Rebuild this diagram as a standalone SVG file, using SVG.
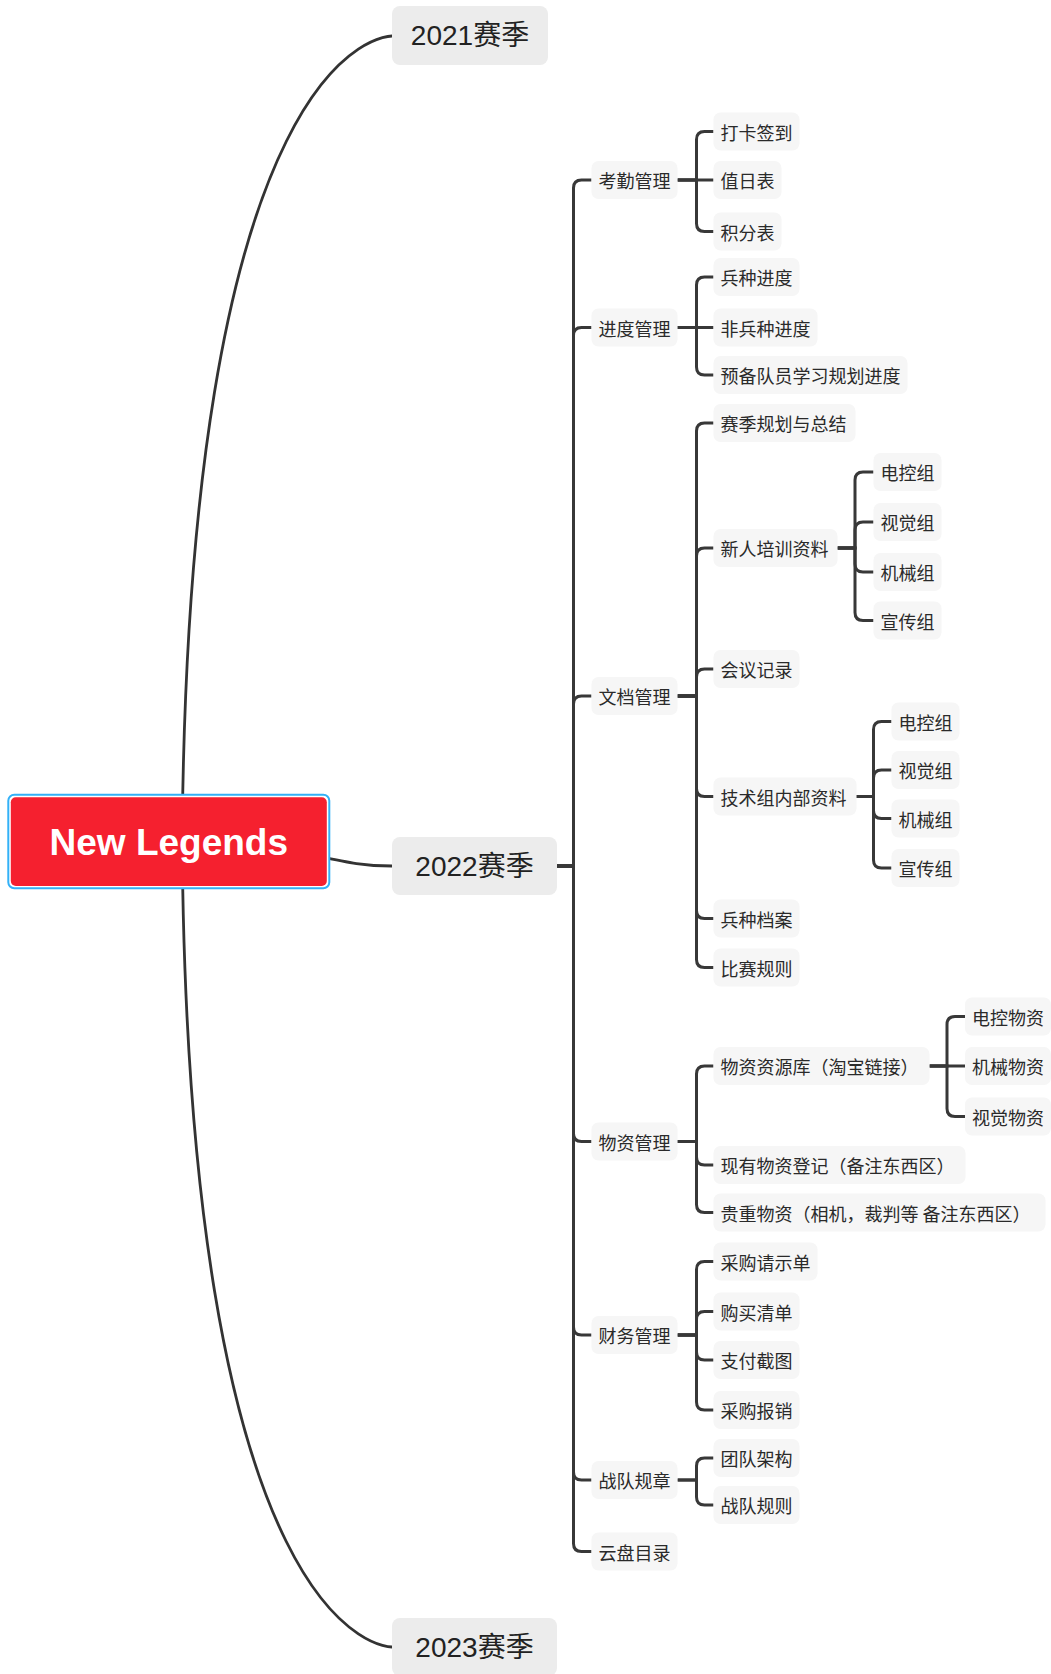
<svg xmlns="http://www.w3.org/2000/svg" xmlns:xlink="http://www.w3.org/1999/xlink" width="1051" height="1674" viewBox="0 0 1051 1674">
  <style>
    .conn { fill: none; stroke: #383838; stroke-width: 3; }
    .curve { fill: none; stroke: #333333; stroke-width: 2.8; stroke-linecap: round; }
    .season rect { fill: #ececec; }
    .season text { font-family: "Liberation Sans", "Noto Sans CJK SC", sans-serif; font-size: 28px; fill: #222222; text-anchor: middle; dominant-baseline: central; }
    .topic rect { fill: #f6f6f6; }
    .topic text { font-family: "Noto Sans CJK SC", sans-serif; font-size: 18px; fill: #2a2a2a; dominant-baseline: central; }
    .root-text { font-family: "Liberation Sans", sans-serif; font-weight: bold; font-size: 37px; fill: #ffffff; text-anchor: middle; }
  </style>
  <defs>
    <!-- long sweep from the central topic up to the 2021 season; starts hidden behind the root -->
    <path id="season-curve" d="M182,880 C182,36 390,36 392,36"/>
  </defs>
  <rect width="1051" height="1674" fill="#ffffff"/>

  <g id="connectors">
    <!-- season branches -->
    <use href="#season-curve" class="curve"/>
    <use href="#season-curve" class="curve" transform="matrix(1 0 0 -1 0 1683)"/>
    <path class="curve" d="M280,848 C340,860 355,866 392,866"/>

    <!-- 2022 trunk -->
    <path class="conn" d="M557,866 H573.5 V188 Q573.5,180 581.5,180 H591.5"/>
    <path class="conn" d="M557,866 H573.5 V335.5 Q573.5,327.5 581.5,327.5 H591.5"/>
    <path class="conn" d="M557,866 H573.5 V704 Q573.5,696 581.5,696 H591.5"/>
    <path class="conn" d="M557,866 H573.5 V1133.5 Q573.5,1141.5 581.5,1141.5 H591.5"/>
    <path class="conn" d="M557,866 H573.5 V1327 Q573.5,1335 581.5,1335 H591.5"/>
    <path class="conn" d="M557,866 H573.5 V1472 Q573.5,1480 581.5,1480 H591.5"/>
    <path class="conn" d="M557,866 H573.5 V1543.5 Q573.5,1551.5 581.5,1551.5 H591.5"/>

    <!-- attendance -->
    <path class="conn" d="M677.5,180 H696.5 V139.5 Q696.5,131.5 704.5,131.5 H713.5"/>
    <path class="conn" d="M677.5,180 H713.5"/>
    <path class="conn" d="M677.5,180 H696.5 V223.5 Q696.5,231.5 704.5,231.5 H713.5"/>

    <!-- progress -->
    <path class="conn" d="M677.5,327.5 H696.5 V285 Q696.5,277 704.5,277 H713.5"/>
    <path class="conn" d="M677.5,327.5 H713.5"/>
    <path class="conn" d="M677.5,327.5 H696.5 V367 Q696.5,375 704.5,375 H713.5"/>

    <!-- documents -->
    <path class="conn" d="M677.5,696 H696.5 V431 Q696.5,423 704.5,423 H713.5"/>
    <path class="conn" d="M677.5,696 H696.5 V556 Q696.5,548 704.5,548 H713.5"/>
    <path class="conn" d="M677.5,696 H696.5 V677 Q696.5,669 704.5,669 H713.5"/>
    <path class="conn" d="M677.5,696 H696.5 V788.5 Q696.5,796.5 704.5,796.5 H713.5"/>
    <path class="conn" d="M677.5,696 H696.5 V910.5 Q696.5,918.5 704.5,918.5 H713.5"/>
    <path class="conn" d="M677.5,696 H696.5 V959.5 Q696.5,967.5 704.5,967.5 H713.5"/>

    <!-- newcomer training groups -->
    <path class="conn" d="M837.5,548 H855 V480 Q855,472 863,472 H873.5"/>
    <path class="conn" d="M837.5,548 H855 V530 Q855,522 863,522 H873.5"/>
    <path class="conn" d="M837.5,548 H855 V564 Q855,572 863,572 H873.5"/>
    <path class="conn" d="M837.5,548 H855 V612.5 Q855,620.5 863,620.5 H873.5"/>

    <!-- technical group internal docs -->
    <path class="conn" d="M856.5,796.5 H873.5 V729.5 Q873.5,721.5 881.5,721.5 H891.5"/>
    <path class="conn" d="M856.5,796.5 H873.5 V778 Q873.5,770 881.5,770 H891.5"/>
    <path class="conn" d="M856.5,796.5 H873.5 V810.5 Q873.5,818.5 881.5,818.5 H891.5"/>
    <path class="conn" d="M856.5,796.5 H873.5 V860 Q873.5,868 881.5,868 H891.5"/>

    <!-- materials -->
    <path class="conn" d="M677.5,1141.5 H696.5 V1074 Q696.5,1066 704.5,1066 H713.5"/>
    <path class="conn" d="M677.5,1141.5 H696.5 V1157 Q696.5,1165 704.5,1165 H713.5"/>
    <path class="conn" d="M677.5,1141.5 H696.5 V1204.5 Q696.5,1212.5 704.5,1212.5 H713.5"/>

    <!-- material sources -->
    <path class="conn" d="M929.5,1066 H947 V1024.5 Q947,1016.5 955,1016.5 H965"/>
    <path class="conn" d="M929.5,1066 H965"/>
    <path class="conn" d="M929.5,1066 H947 V1108.5 Q947,1116.5 955,1116.5 H965"/>

    <!-- finance -->
    <path class="conn" d="M677.5,1335 H696.5 V1269.5 Q696.5,1261.5 704.5,1261.5 H713.5"/>
    <path class="conn" d="M677.5,1335 H696.5 V1319.5 Q696.5,1311.5 704.5,1311.5 H713.5"/>
    <path class="conn" d="M677.5,1335 H696.5 V1352 Q696.5,1360 704.5,1360 H713.5"/>
    <path class="conn" d="M677.5,1335 H696.5 V1402 Q696.5,1410 704.5,1410 H713.5"/>

    <!-- team rules -->
    <path class="conn" d="M677.5,1480 H696.5 V1466 Q696.5,1458 704.5,1458 H713.5"/>
    <path class="conn" d="M677.5,1480 H696.5 V1497 Q696.5,1505 704.5,1505 H713.5"/>
  </g>

  <!-- central topic -->
  <g id="root">
    <rect x="8.3" y="794.8" width="321" height="93.5" rx="6" fill="#ffffff" stroke="#33b1f7" stroke-width="2"/>
    <rect x="10.8" y="797.3" width="316" height="88.7" rx="5" fill="#f5202f"/>
    <text class="root-text" x="168.8" y="854.5">New Legends</text>
  </g>

  <!-- seasons -->
  <g id="season-2021" class="season">
    <rect x="392" y="6" width="156" height="59" rx="8"/>
    <text x="470" y="35.5">2021赛季</text>
  </g>
  <g id="season-2022" class="season">
    <rect x="392" y="837" width="165" height="58" rx="8"/>
    <text x="474.5" y="866">2022赛季</text>
  </g>
  <g id="season-2023" class="season">
    <rect x="392" y="1618" width="165" height="58" rx="8"/>
    <text x="474.5" y="1647">2023赛季</text>
  </g>

  <!-- 2022 main topics -->
  <g id="attendance" class="topic"><rect x="591.5" y="161" width="86" height="38" rx="7"/><text x="598.5" y="180">考勤管理</text></g>
  <g id="progress" class="topic"><rect x="591.5" y="308.5" width="86" height="38" rx="7"/><text x="598.5" y="327.5">进度管理</text></g>
  <g id="documents" class="topic"><rect x="591.5" y="677" width="86" height="38" rx="7"/><text x="598.5" y="696">文档管理</text></g>
  <g id="materials" class="topic"><rect x="591.5" y="1122.5" width="86" height="38" rx="7"/><text x="598.5" y="1141.5">物资管理</text></g>
  <g id="finance" class="topic"><rect x="591.5" y="1316" width="86" height="38" rx="7"/><text x="598.5" y="1335">财务管理</text></g>
  <g id="team-rules" class="topic"><rect x="591.5" y="1461" width="86" height="38" rx="7"/><text x="598.5" y="1480">战队规章</text></g>
  <g id="cloud-drive" class="topic"><rect x="591.5" y="1532.5" width="86" height="38" rx="7"/><text x="598.5" y="1551.5">云盘目录</text></g>

  <!-- attendance items -->
  <g id="check-in" class="topic"><rect x="713.5" y="112.5" width="86" height="38" rx="7"/><text x="720.5" y="131.5">打卡签到</text></g>
  <g id="duty-roster" class="topic"><rect x="713.5" y="161" width="68" height="38" rx="7"/><text x="720.5" y="180">值日表</text></g>
  <g id="points-table" class="topic"><rect x="713.5" y="212.5" width="68" height="38" rx="7"/><text x="720.5" y="231.5">积分表</text></g>

  <!-- progress items -->
  <g id="unit-progress" class="topic"><rect x="713.5" y="258" width="86" height="38" rx="7"/><text x="720.5" y="277">兵种进度</text></g>
  <g id="non-unit-progress" class="topic"><rect x="713.5" y="308.5" width="104" height="38" rx="7"/><text x="720.5" y="327.5">非兵种进度</text></g>
  <g id="reserve-plan" class="topic"><rect x="713.5" y="356" width="194" height="38" rx="7"/><text x="720.5" y="375">预备队员学习规划进度</text></g>

  <!-- document items -->
  <g id="season-plan" class="topic"><rect x="713.5" y="404" width="142" height="38" rx="7"/><text x="720.5" y="423">赛季规划与总结</text></g>
  <g id="training" class="topic"><rect x="713.5" y="529" width="124" height="38" rx="7"/><text x="720.5" y="548">新人培训资料</text></g>
  <g id="meetings" class="topic"><rect x="713.5" y="650" width="86" height="38" rx="7"/><text x="720.5" y="669">会议记录</text></g>
  <g id="tech-docs" class="topic"><rect x="713.5" y="777.5" width="143" height="38" rx="7"/><text x="720.5" y="796.5">技术组内部资料</text></g>
  <g id="unit-archive" class="topic"><rect x="713.5" y="899.5" width="86" height="38" rx="7"/><text x="720.5" y="918.5">兵种档案</text></g>
  <g id="match-rules" class="topic"><rect x="713.5" y="948.5" width="86" height="38" rx="7"/><text x="720.5" y="967.5">比赛规则</text></g>

  <!-- training groups -->
  <g id="training-ec" class="topic"><rect x="873.5" y="453" width="68" height="38" rx="7"/><text x="880.5" y="472">电控组</text></g>
  <g id="training-vision" class="topic"><rect x="873.5" y="503" width="68" height="38" rx="7"/><text x="880.5" y="522">视觉组</text></g>
  <g id="training-mech" class="topic"><rect x="873.5" y="553" width="68" height="38" rx="7"/><text x="880.5" y="572">机械组</text></g>
  <g id="training-pr" class="topic"><rect x="873.5" y="601.5" width="68" height="38" rx="7"/><text x="880.5" y="620.5">宣传组</text></g>

  <!-- technical groups -->
  <g id="tech-ec" class="topic"><rect x="891.5" y="702.5" width="68" height="38" rx="7"/><text x="898.5" y="721.5">电控组</text></g>
  <g id="tech-vision" class="topic"><rect x="891.5" y="751" width="68" height="38" rx="7"/><text x="898.5" y="770">视觉组</text></g>
  <g id="tech-mech" class="topic"><rect x="891.5" y="799.5" width="68" height="38" rx="7"/><text x="898.5" y="818.5">机械组</text></g>
  <g id="tech-pr" class="topic"><rect x="891.5" y="849" width="68" height="38" rx="7"/><text x="898.5" y="868">宣传组</text></g>

  <!-- material items -->
  <g id="material-sources" class="topic"><rect x="713.5" y="1047" width="216" height="38" rx="7"/><text x="720.5" y="1066">物资资源库（淘宝链接）</text></g>
  <g id="material-register" class="topic"><rect x="713.5" y="1146" width="252" height="38" rx="7"/><text x="720.5" y="1165">现有物资登记（备注东西区）</text></g>
  <g id="valuables" class="topic"><rect x="713.5" y="1193.5" width="332" height="38" rx="7"/><text x="720.5" y="1212.5">贵重物资（相机，裁判等 备注东西区）</text></g>

  <!-- material sources by group -->
  <g id="ec-materials" class="topic"><rect x="965" y="997.5" width="86" height="38" rx="7"/><text x="972" y="1016.5">电控物资</text></g>
  <g id="mech-materials" class="topic"><rect x="965" y="1047" width="86" height="38" rx="7"/><text x="972" y="1066">机械物资</text></g>
  <g id="vision-materials" class="topic"><rect x="965" y="1097.5" width="86" height="38" rx="7"/><text x="972" y="1116.5">视觉物资</text></g>

  <!-- finance items -->
  <g id="purchase-request" class="topic"><rect x="713.5" y="1242.5" width="104" height="38" rx="7"/><text x="720.5" y="1261.5">采购请示单</text></g>
  <g id="shopping-list" class="topic"><rect x="713.5" y="1292.5" width="86" height="38" rx="7"/><text x="720.5" y="1311.5">购买清单</text></g>
  <g id="payment-shots" class="topic"><rect x="713.5" y="1341" width="86" height="38" rx="7"/><text x="720.5" y="1360">支付截图</text></g>
  <g id="reimbursement" class="topic"><rect x="713.5" y="1391" width="86" height="38" rx="7"/><text x="720.5" y="1410">采购报销</text></g>

  <!-- team rules items -->
  <g id="team-structure" class="topic"><rect x="713.5" y="1439" width="86" height="38" rx="7"/><text x="720.5" y="1458">团队架构</text></g>
  <g id="team-regulations" class="topic"><rect x="713.5" y="1486" width="86" height="38" rx="7"/><text x="720.5" y="1505">战队规则</text></g>
</svg>
